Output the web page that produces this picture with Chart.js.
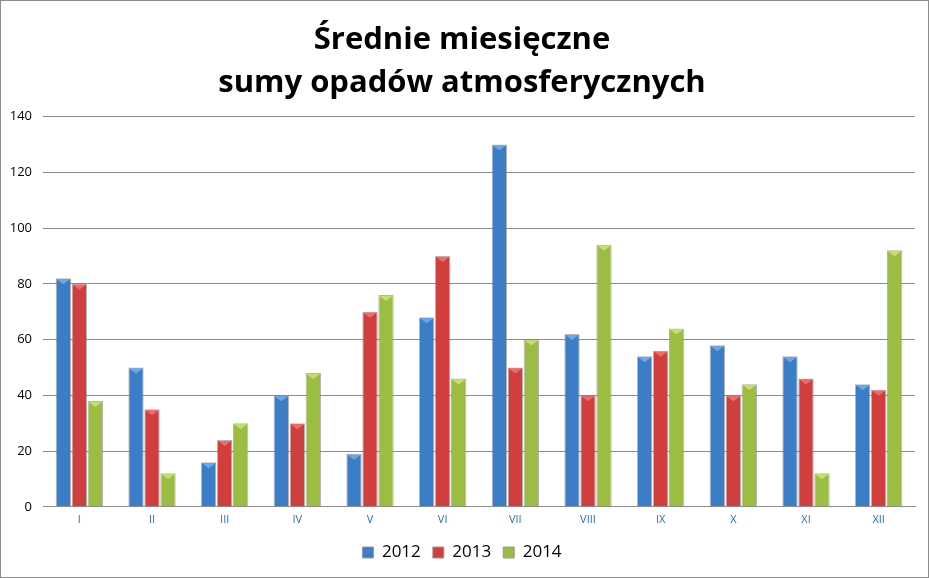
<!DOCTYPE html>
<html>
<head>
<meta charset="utf-8">
<script src="https://cdn.jsdelivr.net/npm/chart.js@4/dist/chart.umd.min.js"></script>
<style>
  html, body { margin:0; padding:0; background:#fff; }
  #frame { position:absolute; left:0; top:0; width:927px; height:576px; border:1px solid #8c8c8c; }
  canvas { display:block; }
</style>
</head>
<body>
<div id="frame"><canvas id="rain" width="927" height="576"></canvas></div>
<script>
// ----- data -----
const months = ["I","II","III","IV","V","VI","VII","VIII","IX","X","XI","XII"];
const years = ["2012","2013","2014"];
const rain2012 = [82, 50, 16, 40, 19, 68, 130, 62, 54, 58, 54, 44];
const rain2013 = [80, 35, 24, 30, 70, 90, 50, 40, 56, 40, 46, 42];
const rain2014 = [38, 12, 30, 48, 76, 46, 60, 94, 64, 44, 12, 92];
const yTicks = [0, 20, 40, 60, 80, 100, 120, 140];

// base colours: [light, mid, dark]
const palette = [
  ["#6fa6e6", "#3c7dc8", "#23558f"],
  ["#ee6b6b", "#d13e3e", "#8f2222"],
  ["#c2e06a", "#9bbd42", "#5f7a22"]
];

// cylinder-ish horizontal gradient per bar
function barFill(idx){
  return function(ctx){
    const el = ctx.element;
    const c = palette[idx];
    if(!el || el.width === undefined || !isFinite(el.x)) return c[1];
    const x0 = el.x - el.width/2, x1 = el.x + el.width/2;
    const g = ctx.chart.ctx.createLinearGradient(x0, 0, x1, 0);
    g.addColorStop(0, c[2]);
    g.addColorStop(0.35, c[1]);
    g.addColorStop(0.6, c[0]);
    g.addColorStop(1, c[2]);
    return g;
  };
}

// small bevel triangle on top of each bar
const bevel = {
  id: "bevel",
  afterDatasetsDraw(chart){
    const ctx = chart.ctx;
    chart.data.datasets.forEach((ds, i)=>{
      chart.getDatasetMeta(i).data.forEach(bar=>{
        const w = bar.width, x = bar.x, y = bar.y;
        ctx.save();
        ctx.fillStyle = palette[i][0];
        ctx.beginPath();
        ctx.moveTo(x - w/2 + 1, y + 1);
        ctx.lineTo(x + w/2 - 1, y + 1);
        ctx.lineTo(x, y + 6);
        ctx.closePath();
        ctx.fill();
        ctx.restore();
      });
    });
  }
};

const series = [rain2012, rain2013, rain2014];

new Chart(document.getElementById("rain"), {
  type: "bar",
  data: {
    labels: months,
    datasets: series.map((vals, i)=>({
      label: years[i],
      data: vals,
      backgroundColor: barFill(i),
      borderColor: "rgba(120,120,120,0.55)",
      borderWidth: 1,
      categoryPercentage: 0.66,
      barPercentage: 0.96
    }))
  },
  options: {
    responsive: false,
    animation: false,
    layout: { padding: { left: 8, right: 13, top: 4, bottom: 6 } },
    plugins: {
      title: {
        display: true,
        text: ["Średnie miesięczne", "sumy opadów atmosferycznych"],
        color: "#000",
        font: { family: "Open Sans", size: 31, weight: "bold", lineHeight: 1.38 },
        padding: { top: 14, bottom: 12 }
      },
      legend: {
        position: "bottom",
        labels: {
          color: "#000",
          font: { family: "Open Sans", size: 17 },
          boxWidth: 11, boxHeight: 11, padding: 12,
          generateLabels(chart){
            return chart.data.datasets.map((ds, i)=>({
              text: ds.label, fillStyle: palette[i][1], strokeStyle: "#999", lineWidth: 1, datasetIndex: i
            }));
          }
        }
      },
      tooltip: { enabled: false }
    },
    scales: {
      x: {
        grid: { display: false, drawTicks: false },
        border: { color: "#8c8c8c" },
        ticks: { color: "#2f6db5", font: { family: "Open Sans", size: 11 }, padding: 6 }
      },
      y: {
        min: 0, max: 140,
        afterBuildTicks(axis){ axis.ticks = yTicks.map(v=>({ value: v })); },
        afterFit(axis){ axis.width = 34; },
        grid: { color: "#8c8c8c", drawTicks: false },
        border: { display: false },
        ticks: { color: "#000", font: { family: "Open Sans", size: 13 }, padding: 11 }
      }
    }
  },
  plugins: [bevel]
});
</script>
</body>
</html>
